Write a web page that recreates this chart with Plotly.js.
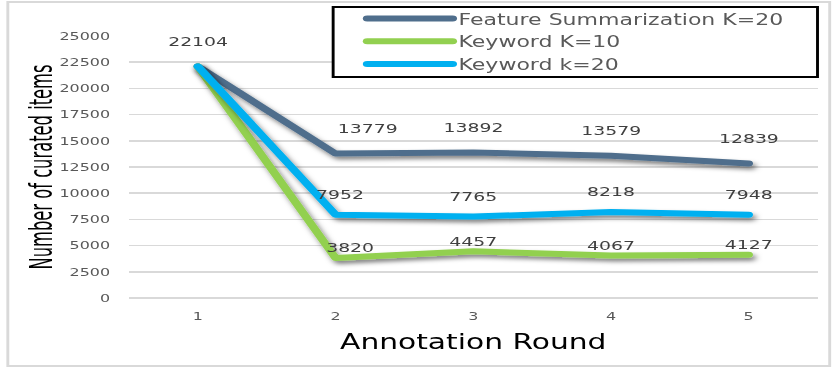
<!DOCTYPE html>
<html><head><meta charset="utf-8">
<script src="https://cdn.plot.ly/plotly-3.0.1.min.js"></script>
<style>
html,body{margin:0;padding:0;background:#fff;overflow:hidden;}
#wrap{width:832px;height:373px;overflow:hidden;}
#chart{width:574px;height:373px;transform:scaleX(1.449477);transform-origin:0 0;}
.scatterlayer .js-line, .legendlines .js-line{stroke-linecap:round !important;stroke-linejoin:round !important;}
</style></head><body>
<div id="wrap"><div id="chart"></div></div>
<script>
// ---- data ----
const rounds = [1, 2, 3, 4, 5];
const featureSummarizationK20 = [22104, 13779, 13892, 13579, 12839];
const keywordK10 = [22104, 3820, 4457, 4067, 4127];
const keywordK20 = [22104, 7952, 7765, 8218, 7948];
const seriesNames = ['Feature Summarization K=20', 'Keyword K=10', 'Keyword k=20'];
const yTickValues = [0, 2500, 5000, 7500, 10000, 12500, 15000, 17500, 20000, 22500, 25000];
const xAxisTitle = 'Annotation Round';
const yAxisTitle = 'Number of curated items';

// ---- styles ----
const seriesValues = [featureSummarizationK20, keywordK10, keywordK20];
const seriesColors = ['#4F6E8C', '#92D050', '#00B0F0'];
const labelLift = [25, 10, 20];
const secondPointNudge = [22, 10, 3]; // label nudge (px) at the sharp corner of each series

const traces = seriesValues.map((vals, k) => ({
  type: 'scatter', mode: 'lines', x: rounds, y: vals, name: seriesNames[k],
  line: {color: seriesColors[k], width: 6}, hoverinfo: 'x+y+name'
}));

const annotations = [];
seriesValues.forEach((vals, k) => {
  vals.forEach((v, i) => {
    if (k > 0 && i === 0) return; // shared first point labelled once
    annotations.push({
      x: rounds[i], y: v, xref: 'x', yref: 'y', text: String(v), showarrow: false,
      yshift: labelLift[k], xshift: i === 1 ? secondPointNudge[k] : 0,
      font: {family: 'DejaVu Sans', size: 13, color: '#404040'}
    });
  });
});

const layout = {
  width: 574, height: 373,
  margin: {l: 89, r: 10, t: 36, b: 75, autoexpand: false},
  paper_bgcolor: '#ffffff', plot_bgcolor: '#ffffff',
  font: {family: 'DejaVu Sans', color: '#595959'},
  xaxis: {
    type: 'linear', range: [0.5, 5.5], tickvals: rounds, ticktext: rounds.map(String),
    showgrid: false, zeroline: false, showline: false, ticks: '',
    ticklabelstandoff: 10,
    tickfont: {family: 'DejaVu Sans', size: 11, color: '#595959'},
    title: {text: xAxisTitle, standoff: 12, font: {family: 'DejaVu Sans', size: 20.5, color: '#000000'}}
  },
  yaxis: {
    range: [0, 25000], tickvals: yTickValues, ticktext: yTickValues.map(String),
    showgrid: true, gridcolor: '#D9D9D9', gridwidth: 1.5,
    zeroline: true, zerolinecolor: '#D9D9D9', zerolinewidth: 1.5,
    showline: false, ticks: '', ticklabelstandoff: 12,
    tickfont: {family: 'DejaVu Sans', size: 11, color: '#595959'},
    title: {text: yAxisTitle, standoff: 1, font: {family: '"Liberation Sans Narrow", "DejaVu Sans Condensed", sans-serif', size: 22.5, color: '#000000'}}
  },
  showlegend: true,
  legend: {
    x: 0.3354, xanchor: 'left', y: 1.129, yanchor: 'top',
    bgcolor: 'rgba(0,0,0,0)', borderwidth: 0, itemwidth: 58,
    font: {family: 'DejaVu Sans', size: 15.2, color: '#595959'},
    traceorder: 'normal'
  },
  shapes: [
    {type: 'rect', xref: 'paper', yref: 'paper', x0: -0.176, x1: 1.0177, y0: -0.2595, y1: 1.1298,
     line: {color: '#D9D9D9', width: 2}, layer: 'below'},
    {type: 'rect', xref: 'paper', yref: 'paper', x0: 0.2965, x1: 1.0, y0: 0.8435, y1: 1.1107,
     line: {color: '#000000', width: 2}, fillcolor: '#ffffff', layer: 'above'}
  ],
  annotations: annotations
};

Plotly.newPlot('chart', traces, layout, {displayModeBar: false, staticPlot: true}).then(gd => {
  const svg = gd.querySelector('svg.main-svg');
  const defs = svg.querySelector('defs');
  const ns = 'http://www.w3.org/2000/svg';
  const f = document.createElementNS(ns, 'filter');
  f.setAttribute('id', 'lineShadow');
  f.setAttribute('filterUnits', 'userSpaceOnUse');
  f.setAttribute('x', '-1000'); f.setAttribute('y', '-1000');
  f.setAttribute('width', '4000'); f.setAttribute('height', '4000');
  const ds = document.createElementNS(ns, 'feDropShadow');
  ds.setAttribute('dx', '2'); ds.setAttribute('dy', '3'); ds.setAttribute('stdDeviation', '2.2');
  ds.setAttribute('flood-color', '#000'); ds.setAttribute('flood-opacity', '0.5');
  f.appendChild(ds); defs.appendChild(f);
  gd.querySelectorAll('.scatterlayer .js-line').forEach(p => p.setAttribute('filter', 'url(#lineShadow)'));
  gd.querySelectorAll('.legendlines path').forEach(p => p.setAttribute('d', 'M5,0h59'));
  // condense the y-axis title along its length (the reference uses a narrow face)
  const yt = gd.querySelector('.g-ytitle text');
  if (yt) {
    const len = yt.getComputedTextLength();
    const target = 205;
    const tx = parseFloat(yt.getAttribute('x')), ty = parseFloat(yt.getAttribute('y'));
    const s = len > target ? target / len : 1;
    const base = yt.getAttribute('transform') || '';
    yt.setAttribute('transform', base + ' translate(0,3.5) translate(' + tx + ',' + ty + ') scale(' + s + ',1) translate(' + (-tx) + ',' + (-ty) + ')');
  }
});
</script>
</body></html>
